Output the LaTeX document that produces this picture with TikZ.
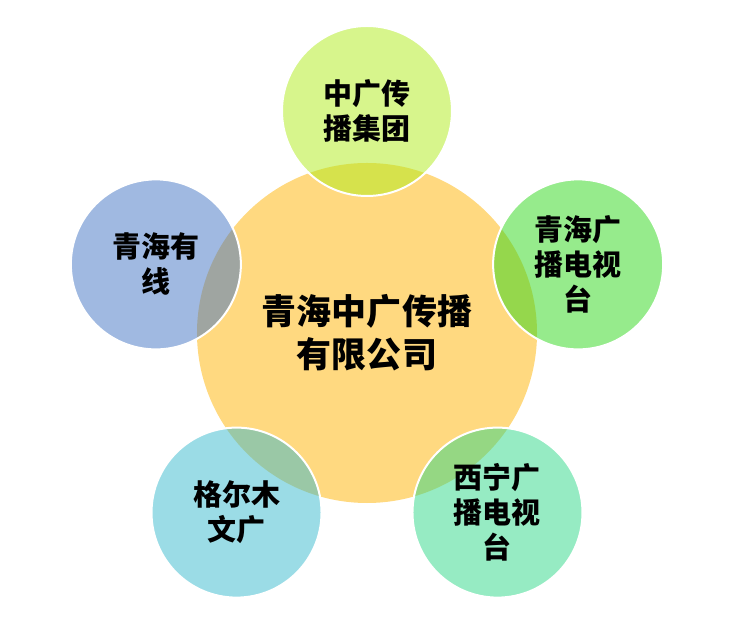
\documentclass[tikz,border=0pt]{standalone}
\usepackage{fontspec}
\newfontfamily\cjk{Noto Sans CJK SC}
\definecolor{hubfill}{RGB}{255,217,128}
\definecolor{lime}{RGB}{175,235,25}
\definecolor{grass}{RGB}{45,215,25}
\definecolor{mint}{RGB}{45,215,135}
\definecolor{steel}{RGB}{65,115,195}
\definecolor{aqua}{RGB}{55,185,205}
\tikzset{
  hub/.style={circle,minimum size=340bp,inner sep=0pt,fill=hubfill,align=center,
    font=\cjk\bfseries\fontsize{35bp}{43bp}\selectfont},
  sat/.style={circle,minimum size=170bp,inner sep=0pt,draw=white,line width=2bp,
    fill opacity=0.5,text opacity=1,align=center,
    font=\cjk\bfseries\fontsize{29bp}{35bp}\selectfont}
}
\begin{document}
\begin{tikzpicture}[x=1bp,y=1bp]
\useasboundingbox (-367,-287) rectangle (385,333);
\node[hub] (gongsi) at (0,0) {青海中广传播\\有限公司};
\node[sat,fill=lime] (jituan) at (90:222) {中广传\\播集团};
\node[sat,fill=grass] (qhtv) at (18:222) {青海广\\播电视\\台};
\node[sat,fill=mint] (xntv) at (-54:222) {西宁广\\播电视\\台};
\node[sat,fill=aqua] (gem) at (-126:222) {格尔木\\文广};
\node[sat,fill=steel] (youxian) at (162:222) {青海有\\线};
\end{tikzpicture}
\end{document}
